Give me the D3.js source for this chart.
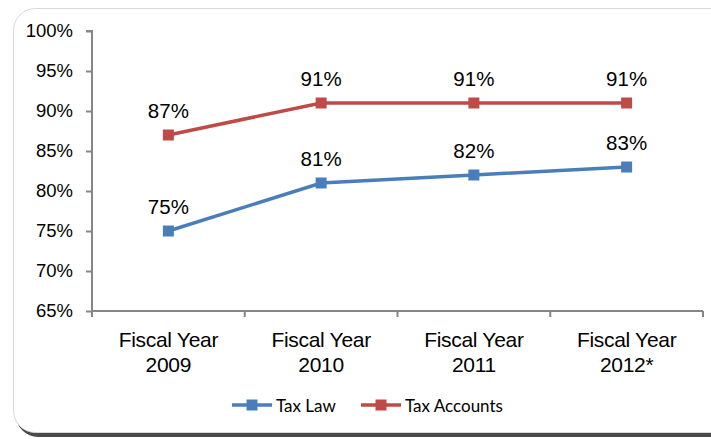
<!DOCTYPE html>
<html>
<head>
<script src="https://d3js.org/d3.v7.min.js"></script>
<style>
  body { margin: 0; background: #fff; }
  svg { display: block; }
  .axis text { font-family: "Liberation Sans", Arial, sans-serif; fill: #000; }
  .axis path, .axis line { stroke: #868686; stroke-width: 2; }
</style>
</head>
<body>
<script>
// chart values
var categories = ["Fiscal Year|2009", "Fiscal Year|2010", "Fiscal Year|2011", "Fiscal Year|2012*"];
var taxLaw = [75, 81, 82, 83];
var taxAccounts = [87, 91, 91, 91];
var yTicks = [65, 70, 75, 80, 85, 90, 95, 100];
var seriesNames = ["Tax Law", "Tax Accounts"];
var seriesColours = ["#4a7ebb", "#be4b48"];

var width = 711, height = 439;
var svg = d3.select("body").append("svg")
    .attr("width", width)
    .attr("height", height);

// frame with dark drop shadow
svg.append("rect")
  .attr("x", 16).attr("y", 12)
  .attr("width", 720).attr("height", 425)
  .attr("rx", 22)
  .attr("fill", "#4a4a4a");
svg.append("rect")
  .attr("x", 13.5).attr("y", 8.5)
  .attr("width", 720).attr("height", 424)
  .attr("rx", 22)
  .attr("fill", "#fff")
  .attr("stroke", "#d9d9d9");

var plotLeft = 92, plotRight = 703, plotTop = 31, plotBottom = 311;

var x = d3.scaleBand().domain(categories).range([plotLeft, plotRight]);
var y = d3.scaleLinear().domain([65, 100]).range([plotBottom, plotTop]);

// y axis
var yAxis = d3.axisLeft(y).tickValues(yTicks).tickSize(6).tickPadding(13)
  .tickFormat(function(d) { return d + "%"; });
var gy = svg.append("g").attr("class", "axis")
  .attr("transform", "translate(" + plotLeft + ",0)")
  .call(yAxis);
gy.select(".domain").attr("d", "M-6," + plotTop + "H0V" + (plotBottom + 6));
gy.selectAll("text").style("font-size", "18.5px");

// x axis
var xAxis = d3.axisBottom(x).tickSize(0).tickFormat("");
var gx = svg.append("g").attr("class", "axis")
  .attr("transform", "translate(0," + plotBottom + ")")
  .call(xAxis);
gx.select(".domain").attr("d", "M" + plotLeft + ",0H" + plotRight);
// boundary ticks between categories
var bounds = categories.map(function(c) { return x(c); }).concat([plotRight]);
gx.selectAll(".bound").data(bounds).enter().append("line")
  .attr("class", "bound")
  .attr("x1", function(d) { return d; }).attr("x2", function(d) { return d; })
  .attr("y1", 0).attr("y2", 6);

// category labels on two lines
var catLabels = svg.append("g").attr("class", "axis");
categories.forEach(function(c) {
  var parts = c.split("|");
  var t = catLabels.append("text")
    .attr("text-anchor", "middle")
    .style("font-size", "21px")
    .style("letter-spacing", "-0.3px");
  parts.forEach(function(p, i) {
    t.append("tspan")
      .attr("x", x(c) + x.bandwidth() / 2)
      .attr("y", 347 + i * 25)
      .text(p);
  });
});

var series = [taxLaw, taxAccounts];
var line = d3.line()
  .x(function(d, i) { return x(categories[i]) + x.bandwidth() / 2; })
  .y(function(d) { return y(d); });

series.forEach(function(vals, s) {
  var g = svg.append("g");
  g.append("path")
    .attr("d", line(vals))
    .attr("fill", "none")
    .attr("stroke", seriesColours[s])
    .attr("stroke-width", 3.5);
  g.selectAll("rect").data(vals).enter().append("rect")
    .attr("x", function(d, i) { return x(categories[i]) + x.bandwidth() / 2 - 5.5; })
    .attr("y", function(d) { return y(d) - 5.5; })
    .attr("width", 11).attr("height", 11)
    .attr("fill", seriesColours[s]);
  g.selectAll("text").data(vals).enter().append("text")
    .attr("x", function(d, i) { return x(categories[i]) + x.bandwidth() / 2; })
    .attr("y", function(d) { return y(d) - 17; })
    .attr("text-anchor", "middle")
    .style("font-family", "'Liberation Sans', Arial, sans-serif")
    .style("font-size", "20.5px")
    .text(function(d) { return d + "%"; });
});

// legend
var legendX = [232, 361];
seriesNames.forEach(function(name, s) {
  var lg = svg.append("g").attr("transform", "translate(" + legendX[s] + ",405)");
  lg.append("line")
    .attr("x1", 0).attr("x2", 40)
    .attr("stroke", seriesColours[s]).attr("stroke-width", 3.5);
  lg.append("rect")
    .attr("x", 14.5).attr("y", -5.5).attr("width", 11).attr("height", 11)
    .attr("fill", seriesColours[s]);
  lg.append("text")
    .attr("x", 44).attr("y", 7)
    .style("font-family", "Lato, 'Open Sans', sans-serif")
    .style("font-size", "17px")
    .text(name);
});
</script>
</body>
</html>
